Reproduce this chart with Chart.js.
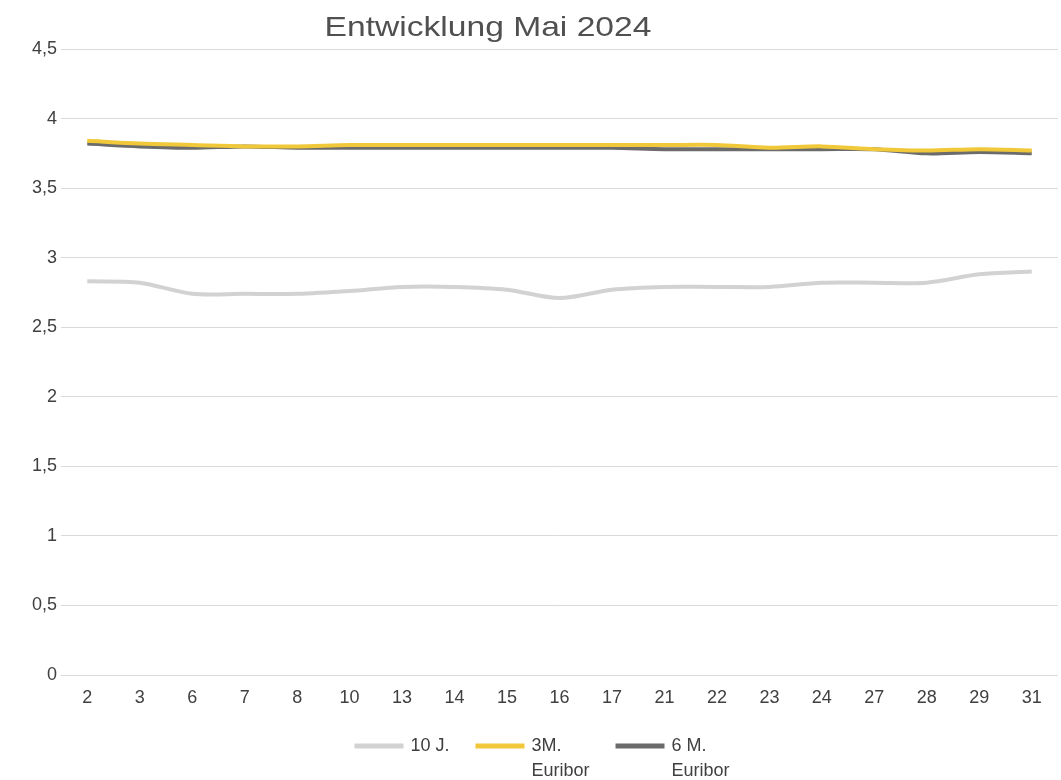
<!DOCTYPE html>
<html>
<head>
<meta charset="utf-8">
<script src="https://cdn.jsdelivr.net/npm/chart.js@4.4.1/dist/chart.umd.min.js"></script>
<style>
  html, body { margin: 0; padding: 0; background: #fff; }
  .wrap { position: relative; width: 1061px; height: 780px; }
  .title {
    position: absolute; top: 11px; left: 0; width: 976px; text-align: center;
    font-family: "Liberation Sans", Arial, sans-serif; font-size: 28px; line-height: 32px;
    color: #505050; transform: scaleX(1.2); transform-origin: 488px 0;
  }
</style>
</head>
<body>
<div class="wrap">
  <div class="title">Entwicklung Mai 2024</div>
  <canvas id="chart" width="1061" height="780"></canvas>
</div>
<script>
const days = ['2', '3', '6', '7', '8', '10', '13', '14', '15', '16', '17', '21', '22', '23', '24', '27', '28', '29', '31'];
const zehnJahre = [2.83, 2.82, 2.74, 2.74, 2.74, 2.76, 2.79, 2.79, 2.77, 2.71, 2.77, 2.79, 2.79, 2.79, 2.82, 2.82, 2.82, 2.88, 2.90];
const euribor3M = [3.84, 3.82, 3.81, 3.80, 3.80, 3.81, 3.81, 3.81, 3.81, 3.81, 3.81, 3.81, 3.81, 3.79, 3.80, 3.78, 3.77, 3.78, 3.77];
const euribor6M = [3.82, 3.80, 3.79, 3.80, 3.79, 3.79, 3.79, 3.79, 3.79, 3.79, 3.79, 3.78, 3.78, 3.78, 3.78, 3.78, 3.75, 3.76, 3.75];

const font = "'Liberation Sans', Arial, sans-serif";

// two-line legend label; the legend measures text via toString, so return the widest line
function twoLines(a, b) {
    const arr = [a, b];
    arr.toString = () => (a.length > b.length ? a : b);
    return arr;
}

function series(label, data, color) {
    return {
        label: label,
        data: data,
        borderColor: color,
        backgroundColor: color,
        borderWidth: 4,
        pointRadius: 0,
        tension: 0.3,
        fill: false
    };
}

// give the legend room for its second text line
const legendRoom = {
    id: 'legendRoom',
    beforeLayout(chart) {
        const legend = chart.legend;
        if (!legend || legend._roomPatched) return;
        const fit = legend.fit;
        legend.fit = function () {
            fit.call(this);
            this.height += 15;
        };
        legend._roomPatched = true;
    }
};

const ctx = document.getElementById('chart').getContext('2d');
new Chart(ctx, {
    type: 'line',
    data: {
        labels: days,
        datasets: [
            series('10 J.', zehnJahre, '#d2d2d2'),
            series(twoLines('3M.', 'Euribor'), euribor3M, '#f0c83a'),
            series(twoLines('6 M.', 'Euribor'), euribor6M, '#6b6b6b')
        ]
    },
    plugins: [legendRoom],
    options: {
        responsive: false,
        animation: false,
        layout: { padding: { top: 49, left: 28, right: 3, bottom: 0 } },
        plugins: {
            title: { display: false },
            tooltip: { enabled: false },
            legend: {
                position: 'bottom',
                labels: {
                    boxWidth: 45,
                    boxHeight: 1,
                    padding: 28,
                    color: '#404040',
                    font: { family: font, size: 18, lineHeight: 1.39 }
                }
            }
        },
        scales: {
            x: {
                offset: true,
                grid: { display: false, drawTicks: false },
                border: { display: false },
                ticks: { color: '#404040', font: { family: font, size: 18 }, padding: 12 },
                // keep the legend close under the day labels
                afterFit: (scale) => { scale.height = 34; }
            },
            y: {
                min: 0,
                max: 4.5,
                ticks: {
                    stepSize: 0.5,
                    color: '#404040',
                    font: { family: font, size: 18 },
                    padding: 4,
                    callback: (v) => String(v).replace('.', ',')
                },
                grid: { color: '#d9d9d9', lineWidth: 1, drawTicks: false },
                border: { display: false }
            }
        }
    }
});
</script>
</body>
</html>
